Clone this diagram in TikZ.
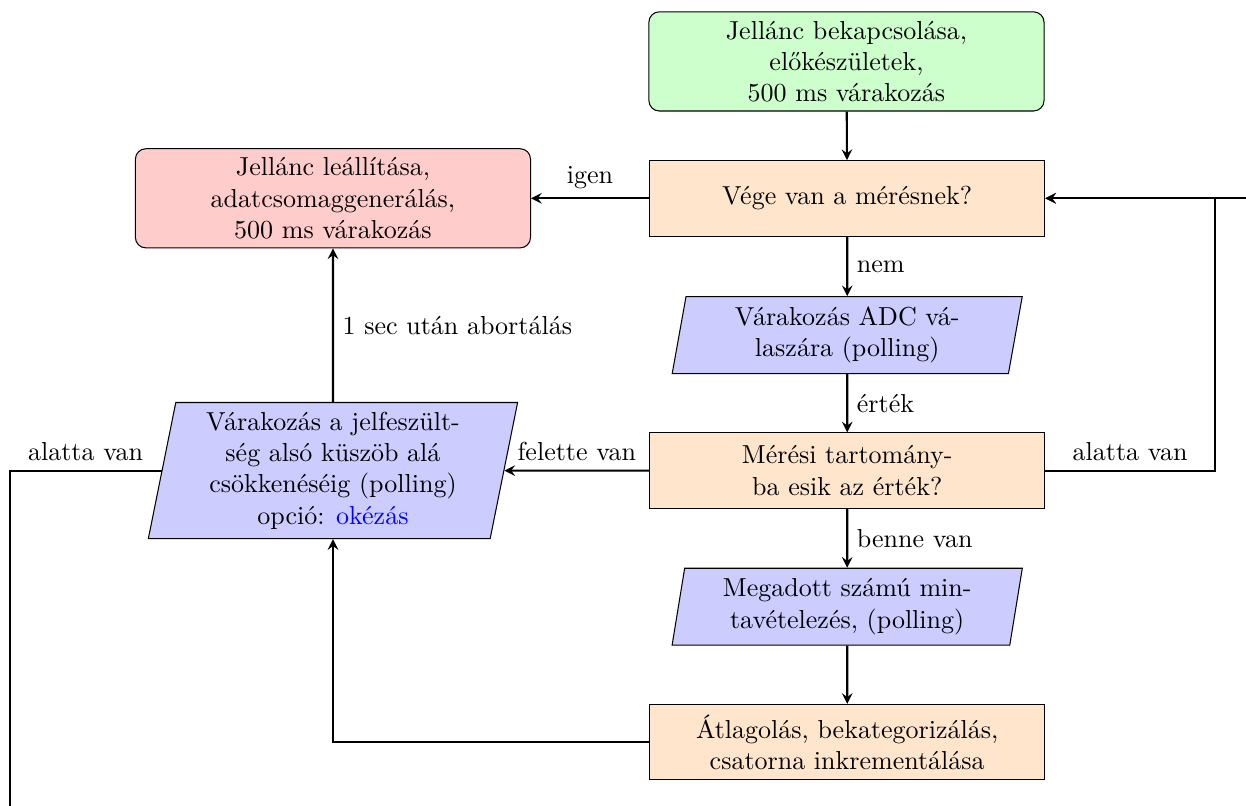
\documentclass[tikz,border=0pt]{standalone}
\usepackage{fontspec}
\usepackage{tikz}
\usetikzlibrary{shapes.geometric}

\tikzset{
  startbox/.style={rectangle, rounded corners, draw, fill=green!20,
    minimum width=5.34cm, minimum height=1.34cm, align=center},
  stopbox/.style={rectangle, rounded corners, draw, fill=red!20,
    minimum width=5.34cm, minimum height=1.34cm, align=center},
  procbox/.style={rectangle, draw, fill=orange!20,
    minimum width=5.34cm, minimum height=1.02cm, align=center},
  iobox/.style={trapezium, trapezium left angle=82, trapezium right angle=98,
    trapezium stretches=true, draw, fill=blue!20, align=center,
    minimum width=4.74cm, minimum height=1.04cm},
  line/.style={draw, thick, -stealth}
}

\begin{document}
\begin{tikzpicture}
  \useasboundingbox (0,0) rectangle (16.84,-10.88);

  \node[startbox] (start) at (11.44,-0.83) {Jellánc bekapcsolása,\\előkészületek,\\500 ms várakozás};
  \node[procbox] (vege) at (11.45,-2.68) {Vége van a mérésnek?};
  \node[stopbox] (stop) at (4.5,-2.68) {Jellánc leállítása,\\adatcsomaggenerálás,\\500 ms várakozás};
  \node[iobox] (adc) at (11.45,-4.53) {Várakozás ADC vá-\\laszára (polling)};
  \node[procbox] (meresi) at (11.45,-6.36) {Mérési tartomány-\\ba esik az érték?};
  \node[iobox, trapezium left angle=80, trapezium right angle=100,
    minimum width=5cm, minimum height=1.84cm] (wait) at (4.5,-6.36)
    {Várakozás a jelfeszült-\\ség alsó küszöb alá\\csökkenéséig (polling)\\opció: \textcolor{blue}{okézás}};
  \node[iobox] (minta) at (11.45,-8.2) {Megadott számú min-\\tavételezés, (polling)};
  \node[procbox] (atlag) at (11.45,-10.03) {Átlagolás, bekategorizálás,\\csatorna inkrementálása};

  % rails outside the node column
  \coordinate (rrail) at (16.42,0);
  \coordinate (lbot) at (0.13,-11.5);
  \coordinate (rbot) at (17.3,-11.5);

  \path[line] (start) -- (vege);
  \path[line] (vege) -- node[above] {igen} (stop);
  \path[line] (vege) -- node[right] {nem} (adc);
  \path[line] (adc) -- node[right] {érték} (meresi);
  \path[line] (meresi) -- node[above] {felette van} (wait);
  \path[line] (meresi) -- node[right] {benne van} (minta);
  \path[line] (minta) -- (atlag);
  \path[line] (atlag.west) -| (wait.south);
  \path[line] (wait) -- node[right] {1 sec után abortálás} (stop);
  \path[line] (meresi.east) -- node[above] {alatta van} (meresi.east -| rrail)
    -- (vege.east -| rrail) -- (vege.east);
  \path[line] (wait.west) -- node[above] {alatta van} (wait.west -| lbot)
    -- (lbot) -- (rbot) -- (rbot |- vege.east) -- (vege.east);
\end{tikzpicture}
\end{document}
